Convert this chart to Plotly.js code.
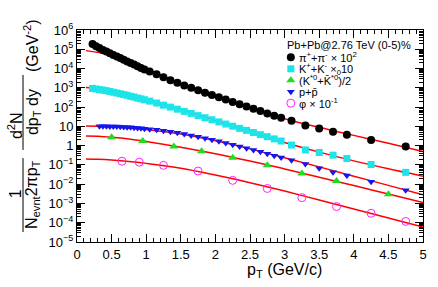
<!DOCTYPE html>
<html><head><meta charset="utf-8">
<script src="https://cdn.plot.ly/plotly-3.0.1.min.js"></script>
<style>html,body{margin:0;padding:0;background:#fff}#c{width:438px;height:287px}</style>
</head><body><div id="c"></div>
<script>
// ---- data ----
const piPt = [0.225,0.275,0.325,0.375,0.425,0.475,0.525,0.575,0.625,0.675,0.725,0.775,0.825,0.875,0.925,0.975,
  1.05,1.15,1.25,1.35,1.45,1.55,1.65,1.75,1.85,1.95,2.05,2.15,2.25,2.35,2.45,2.55,2.65,2.75,2.85,2.95,
  3.1,3.3,3.5,3.7,3.9,4.25,4.75];
const piY = [1.9e5,1.45e5,1.15e5,9.3e4,7.6e4,6.2e4,5.1e4,4.2e4,3.5e4,2.9e4,2.35e4,1.95e4,1.6e4,1.3e4,1.07e4,8.9e3,
  7.1e3,5.0e3,3.55e3,2.5e3,1.82e3,1.32e3,1.0e3,740,560,430,320,245,186,141,107,81,62,47,36,28,
  19.5,11.2,7.8,5.2,3.7,1.95,0.89];
const kPt = piPt;
const kY = [930,870,810,760,710,645,590,537,490,447,407,363,331,295,269,240,
  204,162,126,100,78,60,47,36,28,22,17,13.2,10.2,7.9,6.2,4.8,3.7,2.9,2.24,1.74,
  1.07,0.60,0.44,0.32,0.214,0.105,0.041];
const pPt = [0.325,0.375,0.425,0.475,0.525,0.575,0.625,0.675,0.725,0.775,0.825,0.875,0.925,0.975,
  1.05,1.15,1.25,1.35,1.45,1.55,1.65,1.75,1.85,1.95,2.05,2.15,2.25,2.35,2.45,2.55,2.65,2.75,2.85,2.95,
  3.1,3.3,3.5,3.7,3.9,4.25,4.75];
const pY = [10.0,10.0,10.0,9.9,9.8,9.7,9.5,9.3,9.1,8.9,8.5,8.3,7.9,7.6,
  7.1,6.6,5.9,5.2,4.6,4.0,3.4,2.9,2.45,2.04,1.70,1.38,1.12,0.91,0.74,0.60,0.48,0.38,0.30,0.245,
  0.174,0.110,0.068,0.042,0.028,0.0135,0.0048];
const kstPt = [0.5,0.95,1.4,1.8,2.25,2.75,3.25,3.75,4.5];
const kstY = [2.75,1.74,0.91,0.51,0.234,0.095,0.036,0.0145,0.0030];
const phiPt = [0.65,0.9,1.25,1.75,2.25,2.75,3.25,3.75,4.25,4.75];
const phiY = [0.155,0.138,0.095,0.048,0.0158,0.0060,0.0020,6.9e-4,3.1e-4,1.17e-4];

const fitPt = [0.13,0.3,0.5,0.75,1.0,1.5,2.0,2.5,3.0,3.5,4.0,4.5,5.0];
const fitPi = [8.5e4,6.9e4,4.6e4,2.4e4,1.0e4,1.66e3,355,95,25,8.9,3.4,1.32,0.50];
const fitK = [1050,930,760,500,280,76,20,5.2,1.45,0.46,0.162,0.063,0.026];
const fitP = [10.5,10.2,9.5,8.3,6.9,4.0,1.78,0.68,0.234,0.079,0.026,0.0087,0.0028];
const fitKst = [3.16,3.09,2.75,2.24,1.66,0.83,0.38,0.158,0.062,0.023,0.0085,0.0031,0.00112];
const fitPhi = [0.204,0.195,0.178,0.151,0.120,0.068,0.030,0.012,0.0044,0.0015,5.1e-4,1.74e-4,6.0e-5];

const yTickVals = [1e-5,1e-4,1e-3,1e-2,1e-1,1,10,1e2,1e3,1e4,1e5,1e6];
const yTickText = ['10<sup>−5</sup>','10<sup>−4</sup>','10<sup>−3</sup>','10<sup>−2</sup>','10<sup>−1</sup>','1','10',
  '10<sup>2</sup>','10<sup>3</sup>','10<sup>4</sup>','10<sup>5</sup>','10<sup>6</sup>'];
const legendTitle = 'Pb+Pb@2.76 TeV (0-5)%';
const legendLabels = ['π<sup>+</sup>+π<sup>-</sup> × 10<sup>2</sup>','K<sup>+</sup>+K<sup>-</sup> ×<sub>0</sub>10',
  '(K<sup>*0</sup>+K̄<sup>*0</sup>)/2','p+p̄','φ × 10<sup>-1</sup>'];

// ---- styles ----
const FONT = 'Liberation Sans, Arial, Helvetica, sans-serif';
const styles = [
  {symbol:'circle', size:8, color:'#000000', line:{width:0}},
  {symbol:'square', size:7, color:'#1de4e8', line:{width:0}},
  {symbol:'triangle-up', size:8, color:'#1fdc1f', line:{width:0}},
  {symbol:'triangle-down', size:7, color:'#1515ee', line:{width:0}},
  {symbol:'circle-open', size:8, color:'#ff22ff', line:{width:1, color:'#ff22ff'}}
];
const series = [[piPt,piY],[kPt,kY],[kstPt,kstY],[pPt,pY],[phiPt,phiY]];
const fits = [fitPi,fitK,fitKst,fitP,fitPhi];

const traces = [];
fits.forEach(f => traces.push({x:fitPt, y:f, mode:'lines', line:{color:'#ff0000', width:1.5, shape:'spline'}, hoverinfo:'skip'}));
series.forEach((s,i) => traces.push({x:s[0], y:s[1], mode:'markers', marker:styles[i]}));

// legend markers on a hidden overlay axis
const legY = [0.871,0.817,0.763,0.709,0.655];
styles.forEach((st,i) => traces.push({x:[0.618], y:[legY[i]], xaxis:'x2', yaxis:'y2', mode:'markers', marker:st, hoverinfo:'skip'}));

const annotations = [];
annotations.push({xref:'paper', yref:'paper', x:0.600, y:0.927, xanchor:'left', yanchor:'middle', showarrow:false,
  text:legendTitle, font:{family:FONT, size:11, color:'#000'}});
legendLabels.forEach((t,i) => annotations.push({xref:'paper', yref:'paper', x:0.636, y:legY[i], xanchor:'left', yanchor:'middle',
  showarrow:false, text:t, font:{family:FONT, size:11, color:'#000'}}));
// axis titles
annotations.push({xref:'paper', yref:'paper', x:0.601, y:-0.135, xanchor:'center', yanchor:'middle', showarrow:false,
  text:'p<sub>T</sub> (GeV/c)', font:{family:FONT, size:16, color:'#000'}});
const yt = [
  {x:-0.179, y:0.226, t:'1'},
  {x:-0.127, y:0.222, t:'N<sub>evnt</sub>2πp<sub>T</sub>'},
  {x:-0.179, y:0.547, t:'d<sup>2</sup>N'},
  {x:-0.127, y:0.613, t:'dp<sub>T</sub> dy'},
  {x:-0.133, y:0.929, t:'(GeV<sup>-2</sup>)'}
];
yt.forEach(a => annotations.push({xref:'paper', yref:'paper', x:a.x, y:a.y, xanchor:'center', yanchor:'middle', textangle:-90,
  showarrow:false, text:a.t, font:{family:FONT, size:16, color:'#000'}}));

const shapes = [
  {type:'line', xref:'paper', yref:'paper', x0:-0.156, x1:-0.156, y0:0.047, y1:0.396, line:{color:'#000', width:1}},
  {type:'line', xref:'paper', yref:'paper', x0:-0.156, x1:-0.156, y0:0.434, y1:0.788, line:{color:'#000', width:1}}
];

const layout = {
  width:438, height:287, margin:{l:77, r:15, t:30, b:45},
  paper_bgcolor:'#fff', plot_bgcolor:'#fff', showlegend:false,
  font:{family:FONT, size:13, color:'#000'},
  xaxis:{range:[0,5], tickmode:'linear', tick0:0, dtick:0.5, ticks:'inside', ticklen:8, tickwidth:1, tickcolor:'#000',
    showline:true, linecolor:'#000', linewidth:1, mirror:'allticks', showgrid:false, zeroline:false,
    tickfont:{family:FONT, size:13},
    minor:{ticks:'inside', ticklen:4, dtick:0.1, tickcolor:'#000', showgrid:false}},
  yaxis:{type:'log', range:[-5,6], tickmode:'array', tickvals:yTickVals, ticktext:yTickText, ticks:'inside', ticklen:8,
    tickwidth:1, tickcolor:'#000', showline:true, linecolor:'#000', linewidth:1, mirror:'allticks', showgrid:false, zeroline:false,
    tickfont:{family:FONT, size:13},
    minor:{ticks:'inside', ticklen:4, dtick:'D1', tickcolor:'#000', showgrid:false}},
  xaxis2:{overlaying:'x', range:[0,1], visible:false, fixedrange:true},
  yaxis2:{overlaying:'y', range:[0,1], visible:false, fixedrange:true},
  annotations:annotations, shapes:shapes
};
Plotly.newPlot('c', traces, layout, {staticPlot:true});
</script></body></html>
